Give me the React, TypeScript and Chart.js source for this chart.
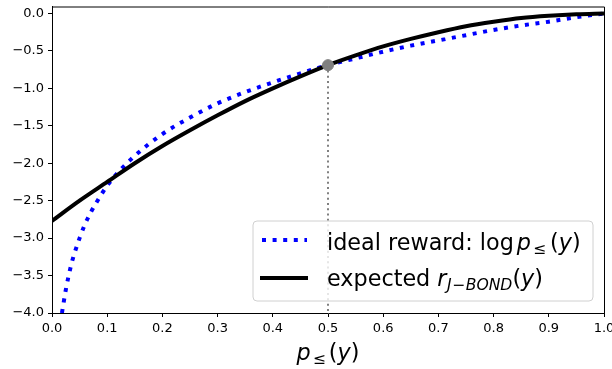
import React, { useEffect, useRef } from "react";
import { Chart, registerables } from "chart.js";

Chart.register(...registerables);

// p values and read-off values of the ideal reward log p≤(y)
const idealX = [0.018, 0.02, 0.025, 0.03, 0.035, 0.04, 0.05, 0.06, 0.07, 0.08, 0.1, 0.12, 0.15, 0.2, 0.25, 0.3, 0.35, 0.4, 0.45, 0.5, 0.55, 0.6, 0.65, 0.7, 0.75, 0.8, 0.85, 0.9, 0.95, 1.0];
const idealY = [-4.0, -3.91, -3.69, -3.51, -3.35, -3.22, -3.0, -2.81, -2.66, -2.53, -2.3, -2.12, -1.9, -1.61, -1.39, -1.2, -1.05, -0.92, -0.8, -0.69, -0.6, -0.51, -0.43, -0.36, -0.29, -0.22, -0.16, -0.11, -0.05, 0.0];

// p values and read-off values of the expected J-BOND reward
const bondX = [0, 0.05, 0.1, 0.15, 0.2, 0.25, 0.3, 0.35, 0.4, 0.45, 0.5, 0.55, 0.6, 0.65, 0.7, 0.75, 0.8, 0.85, 0.9, 0.95, 1.0];
const bondY = [-2.77, -2.5, -2.25, -2.0, -1.77, -1.56, -1.36, -1.17, -1.0, -0.84, -0.69, -0.56, -0.44, -0.34, -0.25, -0.17, -0.11, -0.06, -0.03, -0.01, 0.0];

// highlighted point
const markX = 0.5;
const markY = -0.69;

const xTicks = [0, 0.1, 0.2, 0.3, 0.4, 0.5, 0.6, 0.7, 0.8, 0.9, 1.0];
const yTicks = [0, -0.5, -1, -1.5, -2, -2.5, -3, -3.5, -4];
const xMin = 0, xMax = 1, yMin = -4, yMax = 0.093;

const FONT = "'DejaVu Sans', sans-serif";
const TXT = 22.3;

function fmt(v: number) {
  const s = Math.abs(v).toFixed(1);
  return v < -1e-9 ? "\u2212" + s : s;
}

type Seg = { t: string; italic?: boolean; sub?: boolean; pre?: number; post?: number };

function richWidth(ctx: CanvasRenderingContext2D, segs: Seg[], size: number) {
  let w = 0;
  for (const s of segs) {
    const fs = s.sub ? size * 0.7 : size;
    ctx.font = `${s.italic ? "oblique " : ""}${fs}px ${FONT}`;
    w += (s.pre || 0) + ctx.measureText(s.t).width + (s.post || 0);
  }
  return w;
}

function drawRich(ctx: CanvasRenderingContext2D, segs: Seg[], x: number, y: number, size: number) {
  let cx = x;
  for (const s of segs) {
    const fs = s.sub ? size * 0.7 : size;
    ctx.font = `${s.italic ? "oblique " : ""}${fs}px ${FONT}`;
    const dy = s.sub ? size * 0.2 : 0;
    cx += s.pre || 0;
    ctx.fillText(s.t, cx, y + dy);
    cx += ctx.measureText(s.t).width + (s.post || 0);
  }
  return cx - x;
}

const decorPlugin = {
  id: "decor",
  afterDraw(chart: any) {
    const { ctx, chartArea: a } = chart;
    const xs = chart.scales.x;
    ctx.save();
    // top/right spines
    ctx.strokeStyle = "#000";
    ctx.lineWidth = 1;
    ctx.beginPath();
    ctx.moveTo(a.left, a.top + 0.5);
    ctx.lineTo(a.right + 0.5, a.top + 0.5);
    ctx.lineTo(a.right + 0.5, a.bottom);
    ctx.stroke();

    // x tick labels
    ctx.fillStyle = "#000";
    ctx.font = `13px ${FONT}`;
    ctx.textAlign = "center";
    ctx.textBaseline = "top";
    for (const v of xTicks) {
      ctx.fillText(fmt(v), xs.getPixelForValue(v), a.bottom + 9);
    }

    // x-axis title
    ctx.textBaseline = "alphabetic";
    ctx.textAlign = "left";
    const segs: Seg[] = [
      { t: "p", italic: true },
      { t: "\u2264", sub: true, pre: 2, post: 3 },
      { t: "(" },
      { t: "y", italic: true },
      { t: ")" },
    ];
    const w = richWidth(ctx, segs, TXT);
    drawRich(ctx, segs, (a.left + a.right) / 2 - w / 2, 360, TXT);

    // legend
    const lx = 253, ly = 221, lw = 340, lh = 80, r = 4;
    ctx.beginPath();
    ctx.moveTo(lx + r, ly);
    ctx.lineTo(lx + lw - r, ly);
    ctx.quadraticCurveTo(lx + lw, ly, lx + lw, ly + r);
    ctx.lineTo(lx + lw, ly + lh - r);
    ctx.quadraticCurveTo(lx + lw, ly + lh, lx + lw - r, ly + lh);
    ctx.lineTo(lx + r, ly + lh);
    ctx.quadraticCurveTo(lx, ly + lh, lx, ly + lh - r);
    ctx.lineTo(lx, ly + r);
    ctx.quadraticCurveTo(lx, ly, lx + r, ly);
    ctx.closePath();
    ctx.fillStyle = "rgba(255,255,255,0.8)";
    ctx.fill();
    ctx.strokeStyle = "#d0d0d0";
    ctx.lineWidth = 1;
    ctx.stroke();

    // legend line samples
    ctx.lineWidth = 4;
    ctx.lineCap = "butt";
    ctx.strokeStyle = "#0000ff";
    ctx.setLineDash([4, 6.6]);
    ctx.beginPath();
    ctx.moveTo(262, 240);
    ctx.lineTo(307, 240);
    ctx.stroke();
    ctx.setLineDash([]);
    ctx.strokeStyle = "#000";
    ctx.beginPath();
    ctx.moveTo(260, 278);
    ctx.lineTo(308, 278);
    ctx.stroke();

    ctx.fillStyle = "#000";
    drawRich(ctx, [
      { t: "ideal reward: log" },
      { t: "p", italic: true, pre: 3 },
      { t: "\u2264", sub: true, pre: 2, post: 4 },
      { t: "(" },
      { t: "y", italic: true },
      { t: ")" },
    ], 327, 250, TXT);
    drawRich(ctx, [
      { t: "expected " },
      { t: "r", italic: true },
      { t: "J", italic: true, sub: true, pre: 0.5 },
      { t: "\u2212", sub: true, pre: 0.5, post: 0.5 },
      { t: "BOND", italic: true, sub: true },
      { t: "(" },
      { t: "y", italic: true },
      { t: ")" },
    ], 327, 286, TXT);
    ctx.restore();
  },
};

export default function App() {
  const ref = useRef<HTMLCanvasElement>(null);
  useEffect(() => {
    document.body.style.margin = "0";
    const chart = new Chart(ref.current!, {
      type: "scatter",
      data: {
        datasets: [
          {
            label: "vline",
            data: [{ x: markX, y: markY }, { x: markX, y: yMin }],
            showLine: true,
            borderColor: "#808080",
            borderWidth: 2,
            borderDash: [2, 3.3],
            pointRadius: 0,
            order: 3,
          } as any,
          {
            label: "ideal",
            data: idealX.map((x, i) => ({ x, y: idealY[i] })),
            showLine: true,
            borderColor: "#0000ff",
            borderWidth: 4,
            borderDash: [4, 6.6],
            borderCapStyle: "butt",
            cubicInterpolationMode: "monotone",
            pointRadius: 0,
            order: 2,
          },
          {
            label: "bond",
            data: bondX.map((x, i) => ({ x, y: bondY[i] })),
            showLine: true,
            borderColor: "#000000",
            borderWidth: 4,
            cubicInterpolationMode: "monotone",
            pointRadius: 0,
            order: 1,
          },
          {
            label: "mark",
            data: [{ x: markX, y: markY }],
            pointRadius: 5.5,
            pointBackgroundColor: "#808080",
            pointBorderColor: "#808080",
            order: 0,
          },
        ],
      },
      options: {
        animation: false,
        responsive: false,
        layout: { padding: { top: 5, right: 8, left: 0, bottom: 0 } },
        plugins: { legend: { display: false }, tooltip: { enabled: false } },
        scales: {
          x: {
            type: "linear",
            min: xMin,
            max: xMax,
            afterBuildTicks: (s: any) => { s.ticks = xTicks.map((v) => ({ value: v })); },
            afterFit: (s: any) => { s.height = 56; s.paddingLeft = 0; s.paddingRight = 0; },
            ticks: { display: false },
            grid: { drawOnChartArea: false, drawTicks: true, tickLength: 4, color: "#000" },
            border: { display: true, color: "#000", width: 1 },
          },
          y: {
            type: "linear",
            min: yMin,
            max: yMax,
            afterBuildTicks: (s: any) => { s.ticks = yTicks.map((v) => ({ value: v })); },
            afterFit: (s: any) => { s.width = 52; s.paddingTop = 0; s.paddingBottom = 0; },
            ticks: {
              color: "#000",
              font: { family: FONT, size: 13 },
              padding: 4,
              autoSkip: false,
              callback: (v: any) => fmt(Number(v)),
            },
            grid: { drawOnChartArea: false, drawTicks: true, tickLength: 4, color: "#000" },
            border: { display: true, color: "#000", width: 1 },
          },
        },
      },
      plugins: [decorPlugin],
    });
    return () => chart.destroy();
  }, []);
  return (
    <div style={{ position: "absolute", left: 0, top: 0, width: 612, height: 369 }}>
      <canvas ref={ref} width={612} height={369} style={{ width: 612, height: 369 }} />
    </div>
  );
}
